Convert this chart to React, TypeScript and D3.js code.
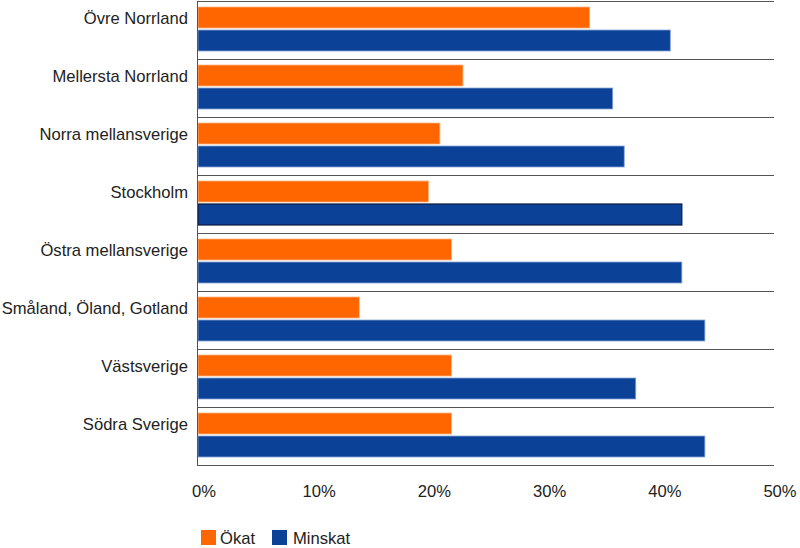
import React from "react";
import * as d3 from "d3";

const categories = [
  "Övre Norrland",
  "Mellersta Norrland",
  "Norra mellansverige",
  "Stockholm",
  "Östra mellansverige",
  "Småland, Öland, Gotland",
  "Västsverige",
  "Södra Sverige",
];
const okat = [34, 23, 21, 20, 22, 14, 22, 22];
const minskat = [41, 36, 37, 42, 42, 44, 38, 44];
const xTicks = [0, 10, 20, 30, 40, 50];
const seriesNames = ["Ökat", "Minskat"];

const W = 800;
const H = 548;
const left = 198;
const right = 774;
const top = 1;
const bottom = 465;
const ORANGE = "#ff6600";
const BLUE = "#0b4298";
const FONT = "'Liberation Sans', Arial, sans-serif";
const FS = 16.6;

export default function App() {
  const x = d3.scaleLinear().domain([0, 50]).range([left, right]);
  const y = d3.scaleBand().domain(categories).range([top, bottom]);
  const barH = 21;
  return (
    <svg width={W} height={H} style={{ position: "absolute", left: 0, top: 0 }}>
      <rect width={W} height={H} fill="#fff" />
      {categories.map((c, i) => {
        const y0 = y(c)!;
        return (
          <g key={c}>
            <line x1={left} x2={right} y1={y0 + 0.5} y2={y0 + 0.5} stroke="#555" strokeWidth={1} />
            <rect
              x={x(0)}
              y={y0 + 6}
              width={x(okat[i]) - x(0)}
              height={barH}
              fill={ORANGE}
              stroke="#ffb482"
              strokeWidth={0.8}
            />
            <rect
              x={x(0)}
              y={y0 + 29}
              width={x(minskat[i]) - x(0)}
              height={barH}
              fill={BLUE}
              stroke={c === "Stockholm" ? "#0a1a40" : "#8aa6d6"}
              strokeWidth={c === "Stockholm" ? 1.2 : 0.8}
            />
            <text
              x={188}
              y={y0 + 7 + barH / 2}
              textAnchor="end"
              dominantBaseline="central"
              fontFamily={FONT}
              fontSize={FS}
              fill="#222"
            >
              {c}
            </text>
          </g>
        );
      })}
      <line x1={left} x2={right} y1={bottom + 0.5} y2={bottom + 0.5} stroke="#555" strokeWidth={1} />
      <line x1={left - 0.5} x2={left - 0.5} y1={top} y2={bottom + 1} stroke="#555" strokeWidth={1} />
      {xTicks.map((t) => (
        <text
          key={t}
          x={x(t) + 6}
          y={491}
          textAnchor="middle"
          dominantBaseline="central"
          fontFamily={FONT}
          fontSize={FS}
          fill="#222"
        >
          {t}%
        </text>
      ))}
      <g>
        <rect x={201} y={530} width={15} height={15} fill={ORANGE} />
        <text x={220} y={538} dominantBaseline="central" fontFamily={FONT} fontSize={FS} fill="#222">
          {seriesNames[0]}
        </text>
        <rect x={272} y={530} width={15} height={15} fill={BLUE} />
        <text x={293} y={538} dominantBaseline="central" fontFamily={FONT} fontSize={FS} fill="#222">
          {seriesNames[1]}
        </text>
      </g>
    </svg>
  );
}
